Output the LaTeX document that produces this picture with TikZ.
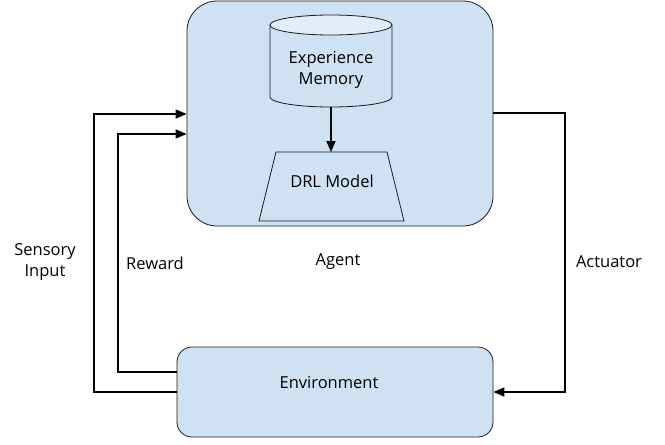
\documentclass[tikz,border=0pt]{standalone}
\usepackage{fontspec}
\setmainfont{Open Sans}
\usetikzlibrary{arrows.meta}
\definecolor{boxfill}{HTML}{CFE2F3}
\definecolor{capfill}{HTML}{E2EDF8}
\definecolor{boxline}{HTML}{1A1A1A}
\begin{document}
\begin{tikzpicture}[x=1pt,y=-1pt,
  box/.style={draw=boxline,fill=boxfill,line width=0.8pt},
  conn/.style={line width=1.6pt,-{Triangle[length=11pt,width=9pt]}},
  lbl/.style={font=\fontsize{16.5}{21}\selectfont,align=center,inner sep=0pt}]
\useasboundingbox (0,0) rectangle (665,445);
% Agent
\node[box,rounded corners=30pt,minimum width=306pt,minimum height=225pt,inner sep=0pt] (agent) at (340,113.5) {};
% Environment
\node[box,rounded corners=15pt,minimum width=316pt,minimum height=90pt,inner sep=0pt] (env) at (335,392) {};
\node[lbl] (envtxt) at (329,383) {Environment};
% Cylinder
\fill[boxfill] (270,25) -- (270,97) arc[start angle=180,end angle=0,x radius=61,y radius=10] -- (392,25) -- cycle;
\draw[boxline,line width=0.8pt] (270,25) -- (270,97) arc[start angle=180,end angle=0,x radius=61,y radius=10] -- (392,25);
\fill[capfill] (331,25) ellipse[x radius=61,y radius=10];
\draw[boxline,line width=0.8pt] (331,25) ellipse[x radius=61,y radius=10];
\node[lbl] (mem) at (331,70) {Experience\\Memory};
\coordinate (memb) at (331,107);
% Trapezoid
\draw[box] (259,221) -- (276,152) -- (387,152) -- (404,221) -- cycle;
\coordinate (drlt) at (331,152);
\node[lbl] (drl) at (332,181) {DRL Model};
\draw[conn] (memb) -- (drlt);
% Labels
\node[lbl] (agentlbl) at (338,262) {Agent};
\node[lbl] (sens) at (45,262) {Sensory\\Input};
\node[lbl] (rew) at (155,263) {Reward};
\node[lbl] (act) at (609,262) {Actuator};
% Connectors
\draw[conn] (env.west |- 0,372) -- (118,372) -- (118,134) -- (agent.west |- 0,134);
\draw[conn] (env.west) -- (94,392) -- (94,114) -- (agent.west |- 0,114);
\draw[conn] (agent.east |- 0,113) -- (565,113) -- (565,392) -- (env.east);
\end{tikzpicture}
\end{document}
